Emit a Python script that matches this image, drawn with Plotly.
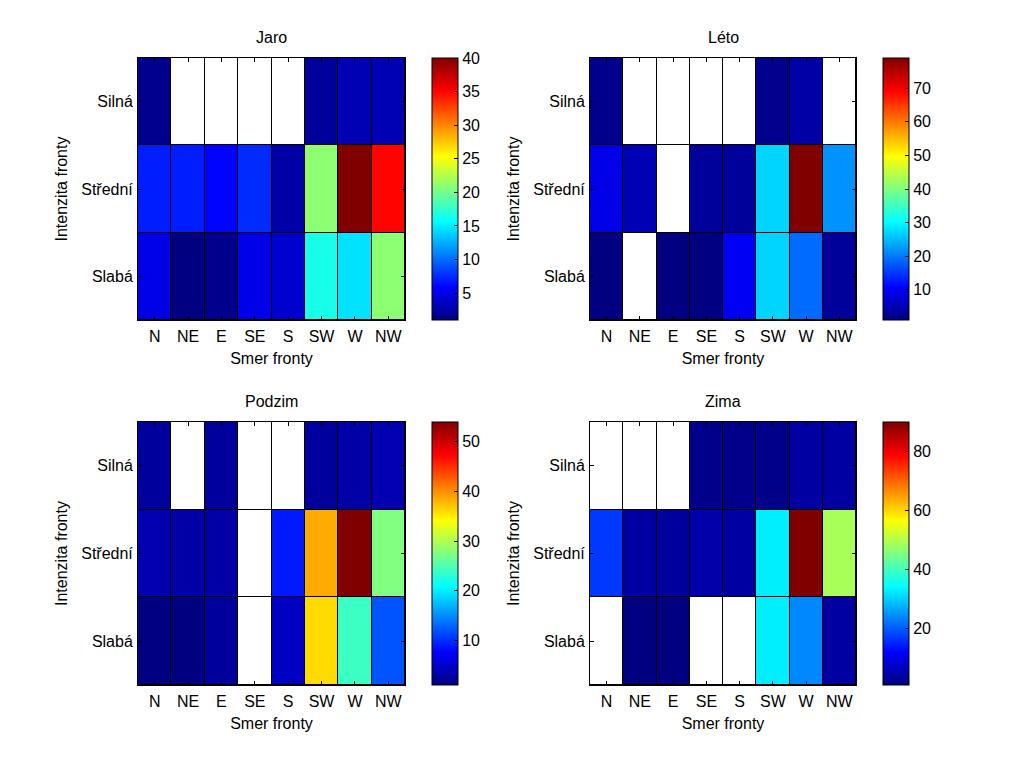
import plotly.graph_objects as go

directions = ["N", "NE", "E", "SE", "S", "SW", "W", "NW"]
intensities = ["Silná", "Střední", "Slabá"]
seasons = ["Jaro", "Léto", "Podzim", "Zima"]
nan = None

# values per season: rows = Silná, Střední, Slabá ; columns = directions
jaro = [[1.5, nan, nan, nan, nan, 2, 3, 3],
        [7, 7, 6, 7.5, 2.5, 21, 40, 35],
        [5, 1, 1.5, 5, 4, 16.5, 14.5, 21]]
leto = [[2, nan, nan, nan, nan, 2, 4, nan],
        [9, 5, nan, 3, 3, 27, 79, 22],
        [1, nan, 1, 1, 10, 27, 19, 3]]
podzim = [[2.5, nan, 2.5, nan, nan, 2.5, 3, 3.5],
          [3.5, 3, 3, nan, 9, 38.5, 54, 27.5],
          [1, 1, 2.5, nan, 4.5, 36, 24, 12]]
zima = [[nan, nan, nan, 2, 2, 2, 4, 4],
        [17, 4, 3.5, 4.5, 4, 33, 90, 49],
        [nan, 1, 1, nan, nan, 33, 24, 4]]
data = [jaro, leto, podzim, zima]

cbar_ticks = [[5, 10, 15, 20, 25, 30, 35, 40],
              [10, 20, 30, 40, 50, 60, 70],
              [10, 20, 30, 40, 50],
              [20, 40, 60, 80]]

jet = [[0.0, "rgb(0,0,128)"], [0.125, "rgb(0,0,255)"], [0.375, "rgb(0,255,255)"],
       [0.625, "rgb(255,255,0)"], [0.875, "rgb(255,0,0)"], [1.0, "rgb(128,0,0)"]]

W, H = 1024, 768
OFF = 8  # page body margin offset
# pixel boxes of the axes in the page (left, right, top, bottom)
boxes = [(138, 405, 58, 320), (590, 856, 58, 320), (138, 405, 422, 685), (590, 856, 422, 685)]
cbar_x = [432, 883, 432, 883]

FONT = "Liberation Sans, Arial, Helvetica, sans-serif"
FS = 16
fig = go.Figure()

for i, (name, z) in enumerate(zip(seasons, data)):
    l, r, t, b = [v - OFF for v in boxes[i]]
    ax = "" if i == 0 else str(i + 1)
    xa, ya = "x" + ax, "y" + ax
    vals = [v for row in z for v in row if v is not None]
    fig.add_trace(go.Heatmap(
        z=z, x=directions, y=intensities, xaxis=xa, yaxis=ya,
        colorscale=jet, zmin=min(vals), zmax=max(vals), xgap=1, ygap=1,
        colorbar=dict(
            x=(cbar_x[i] - OFF) / W, xanchor="left", xref="paper", xpad=0, ypad=0,
            y=1 - b / H, yanchor="bottom", yref="paper",
            len=(b - t) / H, lenmode="fraction", thickness=26,
            outlinewidth=1, outlinecolor="black",
            tickvals=cbar_ticks[i], ticks="inside", ticklen=4, tickcolor="black",
            tickfont=dict(family=FONT, size=FS, color="black"),
        ),
    ))
    mask = [[0 if v is None else None for v in row] for row in z]
    fig.add_trace(go.Heatmap(
        z=mask, x=directions, y=intensities, xaxis=xa, yaxis=ya,
        colorscale=[[0, "white"], [1, "white"]], showscale=False,
        xgap=1, ygap=1, hoverinfo="skip",
    ))
    axis_common = dict(showline=True, linecolor="black", linewidth=1, mirror="all",
                       ticks="inside", ticklen=4, tickcolor="black", showgrid=False,
                       zeroline=False, automargin=False,
                       tickfont=dict(family=FONT, size=FS, color="black"))
    fig.update_layout(**{
        ("xaxis" + ax): dict(domain=[l / W, r / W], anchor=ya, ticklabelstandoff=2,
                             title=dict(text="Smer fronty", standoff=8,
                                        font=dict(family=FONT, size=FS, color="black")),
                             **axis_common),
        ("yaxis" + ax): dict(domain=[1 - b / H, 1 - t / H], anchor=xa, autorange="reversed",
                             ticklabelstandoff=1,
                             title=dict(text="Intenzita fronty", standoff=9,
                                        font=dict(family=FONT, size=FS, color="black")),
                             **axis_common),
    })
    fig.add_annotation(text=name, x=(l + r) / 2 / W, y=1 - t / H, xref="paper", yref="paper",
                       xanchor="center", yanchor="bottom", yshift=10, showarrow=False,
                       font=dict(family=FONT, size=FS, color="black"))

fig.update_layout(width=W, height=H, margin=dict(l=0, r=0, t=0, b=0, autoexpand=False),
                  paper_bgcolor="white", plot_bgcolor="black", showlegend=False,
                  font=dict(family=FONT, size=FS, color="black"))
fig.write_html("out.html")
